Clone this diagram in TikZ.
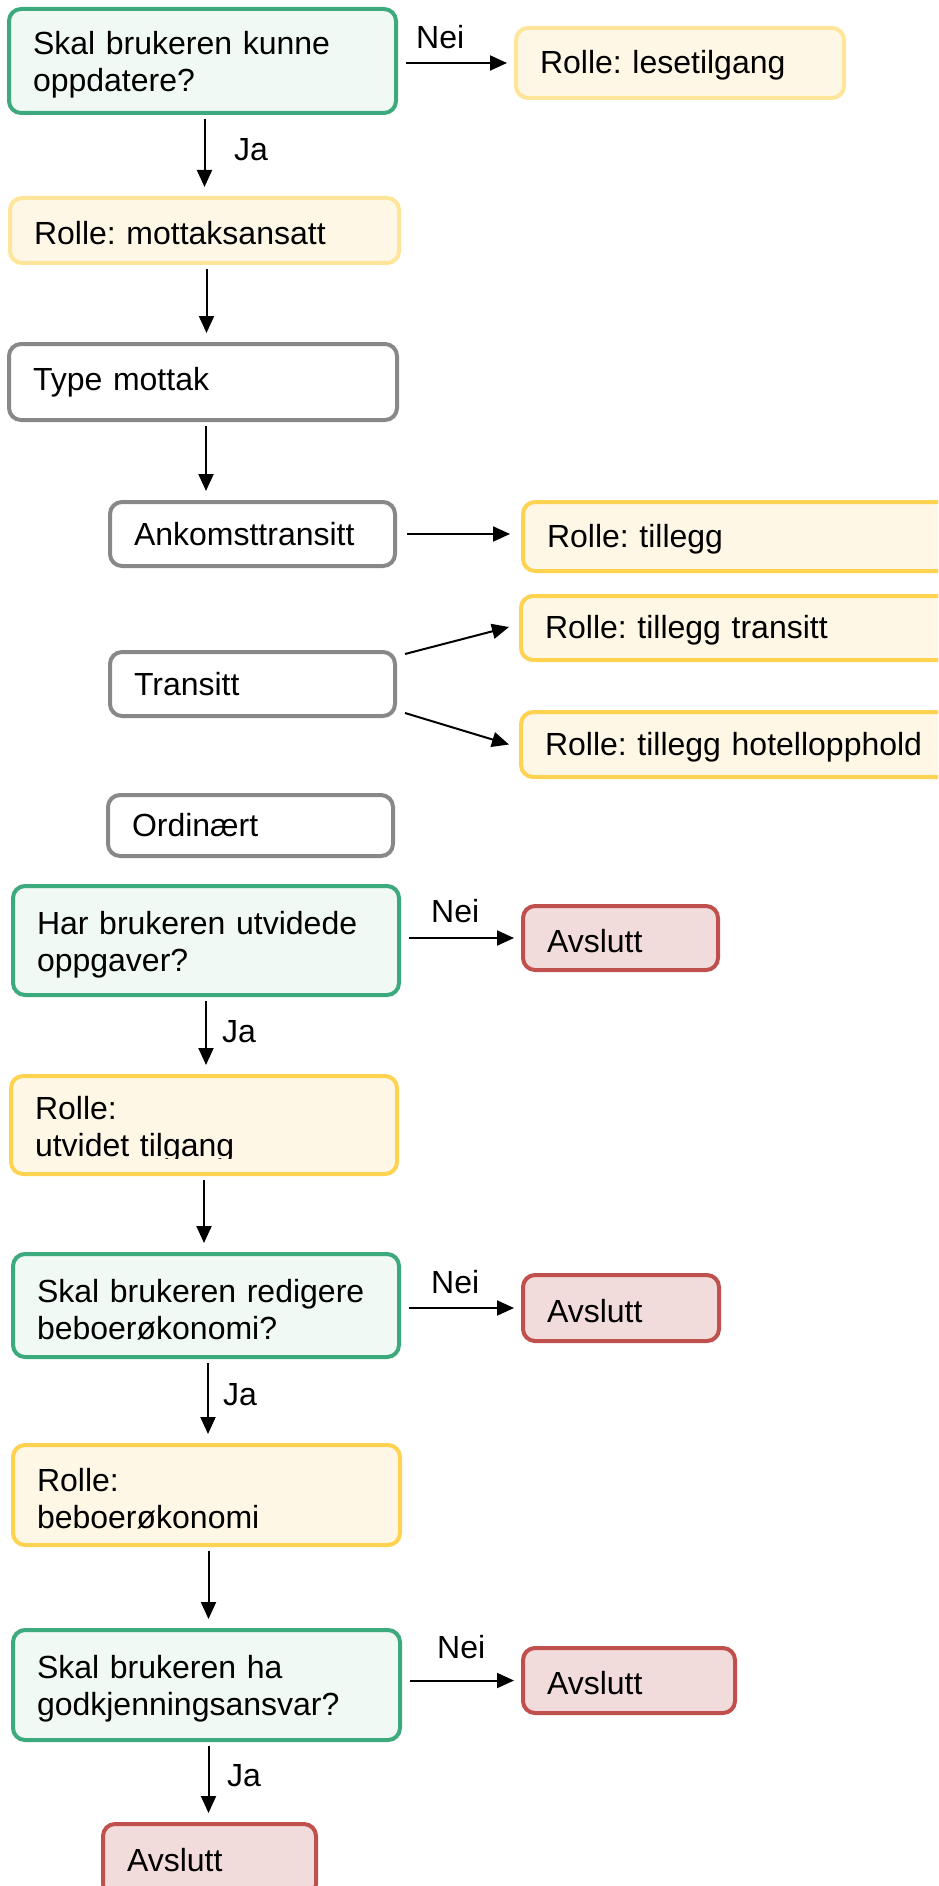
\documentclass[tikz,border=0pt]{standalone}
\usepackage{fontspec}
\setmainfont{Liberation Sans}
\usetikzlibrary{arrows.meta,calc}
\definecolor{gdraw}{RGB}{61,170,125}
\definecolor{gfill}{RGB}{240,249,244}
\definecolor{lydraw}{RGB}{255,229,153}
\definecolor{ydraw}{RGB}{255,210,80}
\definecolor{yfill}{RGB}{255,247,230}
\definecolor{graydraw}{RGB}{136,136,136}
\definecolor{rdraw}{RGB}{192,80,77}
\definecolor{rfill}{RGB}{242,220,219}
\frenchspacing
\tikzset{
  box/.style={rectangle, rounded corners=12pt, line width=4pt, inner xsep=24pt, inner ysep=0pt, align=left, font=\fontsize{32}{37}\selectfont\frenchspacing},
  low/.style={execute at begin node={\rule{0pt}{#1}}},
  gbox/.style={box, draw=gdraw, fill=gfill},
  lybox/.style={box, draw=lydraw, fill=yfill},
  ybox/.style={box, draw=ydraw, fill=yfill},
  wbox/.style={box, draw=graydraw, fill=white},
  rbox/.style={box, draw=rdraw, fill=rfill},
  arr/.style={line width=2pt, -{Triangle[length=17pt,width=15pt]}},
  varr/.style={arr, shorten <=4pt, shorten >=9pt},
  harr/.style={arr, shorten <=8pt, shorten >=7pt},
  lab/.style={font=\fontsize{32}{37}\selectfont, inner sep=0pt, anchor=base west},
}
\begin{document}
\begin{tikzpicture}[x=1pt,y=-1pt]
\useasboundingbox (0,0) rectangle (938,1886);
\clip (0,0) rectangle (938,1886);
\fill[white] (0,0) rectangle (938,1886);

% nodes
\node[gbox, low=31.3pt, minimum width=387pt, minimum height=104pt, text width=339pt] (q1) at (202.5,61) {Skal brukeren kunne\\oppdatere?};
\node[lybox, low=28.3pt, minimum width=328pt, minimum height=70pt, text width=280pt] (les) at (680,63) {Rolle: lesetilgang};
\node[lybox, low=28.3pt, minimum width=389pt, minimum height=65pt, text width=341pt] (mott) at (204.5,230.5) {Rolle: mottaksansatt};
\node[wbox, minimum width=388pt, minimum height=76pt, text width=340pt] (tm) at (203,382) {Type mottak};
\node[wbox, minimum width=285pt, minimum height=64pt, text width=237pt] (ank) at (252.5,534) {Ankomsttransitt};
\node[ybox, low=28.3pt, minimum width=440pt, minimum height=69pt, text width=392pt] (till) at (743,536.5) {Rolle: tillegg};
\node[ybox, low=28.3pt, minimum width=440pt, minimum height=64pt, text width=392pt] (tt) at (741,628) {Rolle: tillegg transitt};
\node[wbox, minimum width=285pt, minimum height=64pt, text width=237pt] (tr) at (252.5,684) {Transitt};
\node[ybox, low=28.3pt, minimum width=440pt, minimum height=65pt, text width=392pt] (ho) at (741,744.5) {Rolle: tillegg hotellopphold};
\node[wbox, minimum width=285pt, minimum height=61pt, text width=237pt] (ord) at (250.5,825.5) {Ordinært};
\node[gbox, low=31.3pt, minimum width=386pt, minimum height=109pt, text width=338pt] (q2) at (206,940.5) {Har brukeren utvidede\\oppgaver?};
\node[rbox, low=28.3pt, minimum width=195pt, minimum height=64pt, text width=147pt] (av1) at (620.5,938) {Avslutt};
\node[ybox, minimum width=386pt, minimum height=98pt] (ut) at (204,1125) {};
\begin{scope}
  \clip (0,1074) rectangle (938,1158);
  \node[box, low=33.3pt, text width=338pt] (uttext) at (ut.center) {Rolle:\\utvidet tilgang};
\end{scope}
\node[gbox, low=31.3pt, minimum width=386pt, minimum height=103pt, text width=338pt] (q3) at (206,1305.5) {Skal brukeren redigere\\beboerøkonomi?};
\node[rbox, low=28.3pt, minimum width=196pt, minimum height=66pt, text width=148pt] (av2) at (621,1308) {Avslutt};
\node[ybox, low=31.3pt, minimum width=387pt, minimum height=100pt, text width=339pt] (beb) at (206.5,1495) {Rolle:\\beboerøkonomi};
\node[gbox, low=31.3pt, minimum width=387pt, minimum height=110pt, text width=339pt] (q4) at (206.5,1685) {Skal brukeren ha\\godkjenningsansvar?};
\node[rbox, low=28.3pt, minimum width=212pt, minimum height=65pt, text width=164pt] (av3) at (629,1680.5) {Avslutt};
\node[rbox, minimum width=213pt, minimum height=72pt, text width=165pt] (avf) at (209.5,1860) {Avslutt};

% labels
\node[lab] (n1) at (416,49) {Nei};
\node[lab] (j1) at (234,161) {Ja};
\node[lab] (n2) at (431,922) {Nei};
\node[lab] (j2) at (222,1042) {Ja};
\node[lab] (n3) at (431,1293) {Nei};
\node[lab] (j3) at (223,1405) {Ja};
\node[lab] (n4) at (437,1658) {Nei};
\node[lab] (j4) at (227,1786) {Ja};

% connectors
\draw[harr] (q1.east |- les.west) -- (les.west);
\draw[varr] ([xshift=2pt]q1.south) -- ([xshift=2pt]q1.south |- mott.north);
\draw[varr] ([xshift=2pt]mott.south) -- ([xshift=2pt]mott.south |- tm.north);
\draw[varr] ([xshift=3pt]tm.south) -- ([xshift=3pt]tm.south |- ank.north);
\draw[arr, shorten <=10pt, shorten >=11pt] (ank.east) -- (ank.east -| till.west);
\draw[arr] ($(tr.east)+(8,-30)$) -- ($(tt.west)+(-10,-1)$);
\draw[arr] ($(tr.east)+(8,29)$) -- ($(ho.west)+(-10,0)$);
\draw[harr] (q2.east |- av1.west) -- (av1.west);
\draw[varr] (q2.south) -- (q2.south |- ut.north);
\draw[varr] (ut.south) -- (ut.south |- q3.north);
\draw[harr] (q3.east |- av2.west) -- (av2.west);
\draw[varr] ([xshift=2pt]q3.south) -- ([xshift=2pt]q3.south |- beb.north);
\draw[varr] ([xshift=2pt]beb.south) -- ([xshift=2pt]beb.south |- q4.north);
\draw[harr] (q4.east |- av3.west) -- (av3.west);
\draw[varr] ([xshift=2pt]q4.south) -- ([xshift=2pt]q4.south |- avf.north);
\end{tikzpicture}
\end{document}
